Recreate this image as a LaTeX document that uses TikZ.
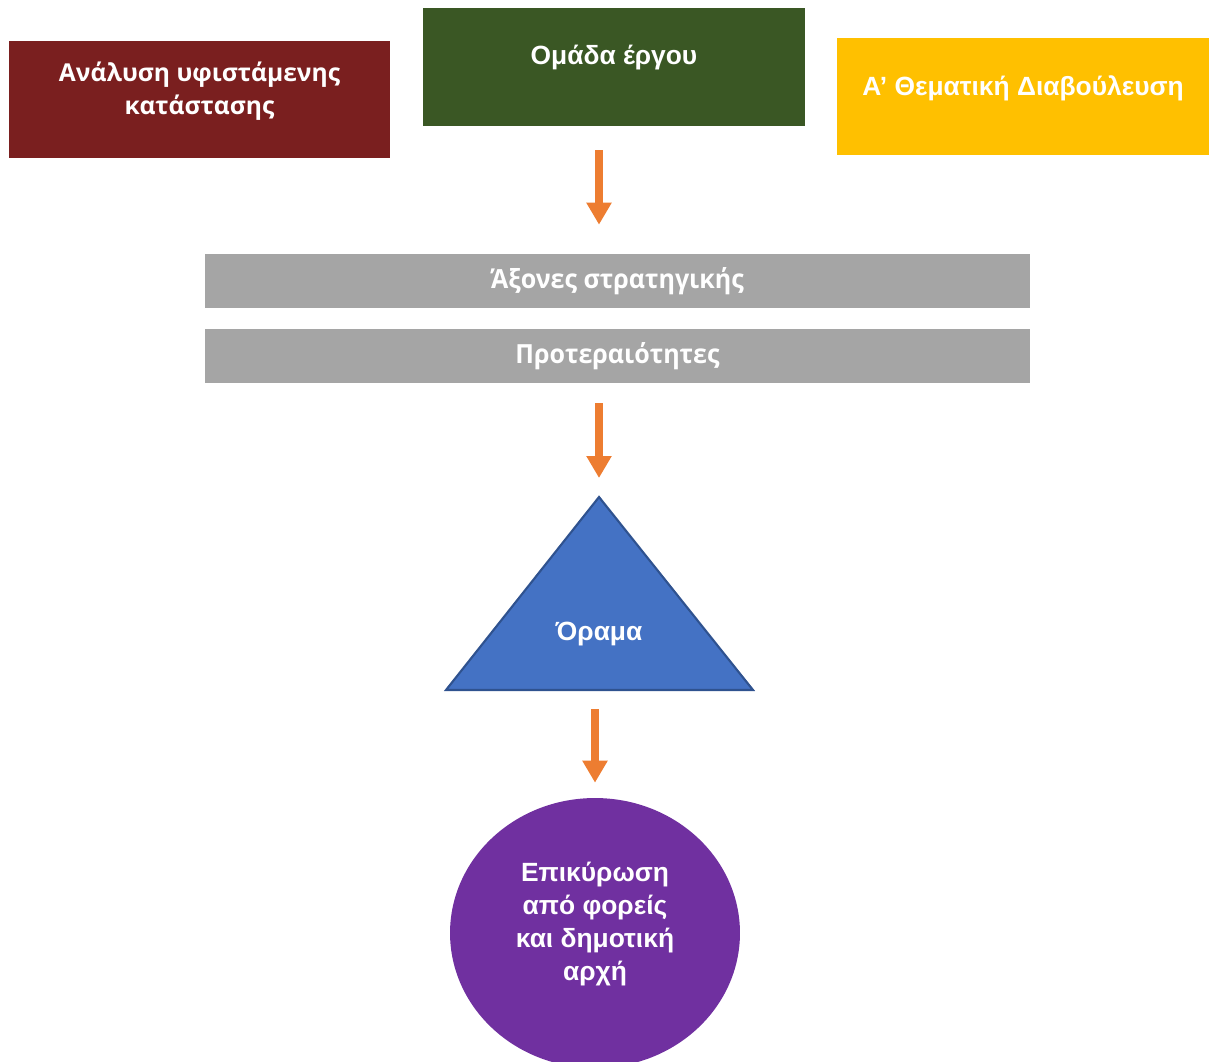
\documentclass[tikz,border=0pt]{standalone}
\usepackage{fontspec}
\setmainfont{Liberation Sans}
\newfontfamily\opensans{Open Sans}
\newfontfamily\narrowsans[FakeStretch=0.95]{Open Sans}
\usetikzlibrary{arrows.meta, shapes.geometric}
\definecolor{MyRed}{HTML}{7A1F1F}
\definecolor{MyGreen}{HTML}{3A5724}
\definecolor{MyYellow}{HTML}{FFC000}
\definecolor{MyGray}{HTML}{A5A5A5}
\definecolor{MyBlue}{HTML}{4472C4}
\definecolor{MyBlueLine}{HTML}{2F528F}
\definecolor{MyPurple}{HTML}{7030A0}
\definecolor{MyOrange}{HTML}{ED7D31}
\tikzset{
	box/.style={rectangle, draw=none, inner sep=0pt},
	boxtext/.style={text=white, font=\bfseries\fontsize{15}{18.7}\selectfont, align=center},
	bartext/.style={text=white, font=\narrowsans\bfseries\fontsize{15}{17}\selectfont},
	flow/.style={draw=MyOrange, line width=4pt, -{Triangle[width=13.6pt, length=12.5pt]}}
}

\begin{document}
\begin{tikzpicture}[x=0.02cm, y=-0.02cm]
	\clip (0,0) rectangle (1209,1061);
	
	\node[box, fill=MyRed, minimum width=7.62cm, minimum height=2.34cm,
		label={[boxtext, font=\opensans\bfseries\fontsize{14}{18.7}\selectfont, yshift=0.16cm]center:Ανάλυση υφιστάμενης\\κατάστασης}] (analysis) at (199.5,99.5) {};
	
	\node[box, fill=MyGreen, minimum width=7.64cm, minimum height=2.36cm,
		label={[boxtext, yshift=0.18cm]center:Ομάδα έργου}] (team) at (614,67) {};
	
	\node[box, fill=MyYellow, minimum width=7.44cm, minimum height=2.34cm,
		label={[boxtext, yshift=0.16cm]center:Α’ Θεματική Διαβούλευση}] (consult) at (1023,96.5) {};
	
	\node[box, fill=MyGray, minimum width=16.5cm, minimum height=1.08cm] (axes) at (617.5,281) {};
	\node[bartext] at (axes.center) {Άξονες στρατηγικής};
	
	\node[box, fill=MyGray, minimum width=16.5cm, minimum height=1.08cm] (prio) at (617.5,356) {};
	\node[bartext] at (prio.center) {Προτεραιότητες};
	
	% triangle
	\coordinate (apex) at (599,497);
	\coordinate (base) at (599,690);
	\draw[fill=MyBlue, draw=MyBlueLine, line width=1.2pt, line join=miter] (apex) -- (753,690) -- (446,690) -- cycle;
	\node[boxtext] (vision) at (599,634) {Όραμα};
	
	\node[ellipse, fill=MyPurple, minimum width=5.8cm, minimum height=5.4cm, inner sep=0pt,
		label={[boxtext, yshift=0.18cm]center:Επικύρωση\\από φορείς\\και δημοτική\\αρχή}] (approval) at (595,933) {};
	
	\draw[flow, shorten <=0.48cm, shorten >=0.58cm] (team.south -| apex) -- (axes.north -| apex);
	\draw[flow, shorten <=0.4cm, shorten >=0.38cm] (prio.south -| apex) -- (apex);
	\draw[flow, shorten <=0.38cm, shorten >=0.3cm] (base -| approval.north) -- (approval.north);
\end{tikzpicture}
\end{document}
